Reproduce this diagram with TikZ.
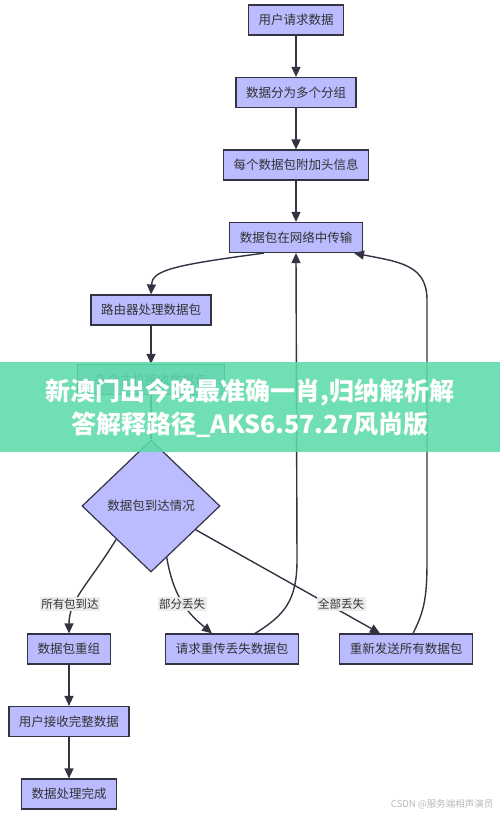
\documentclass[tikz,border=0pt]{standalone}
\usepackage{fontspec}
\setmainfont{Noto Sans CJK SC}
\usepackage{tikz}
\usetikzlibrary{shapes.geometric, arrows.meta}
\definecolor{boxfill}{RGB}{187,187,255}
\definecolor{boxline}{RGB}{51,51,68}
\definecolor{textgray}{RGB}{51,51,51}
\definecolor{bannergreen}{RGB}{92,219,168}
\tikzstyle{process} = [rectangle, minimum height=30pt, inner xsep=10pt, inner ysep=0pt, text centered, draw=boxline, fill=boxfill, line width=1.2pt, text=textgray, font=\fontsize{12.5}{15}\selectfont]
\tikzstyle{decision} = [diamond, minimum width=138pt, minimum height=132pt, inner sep=0pt, text centered, draw=boxline, fill=boxfill, line width=1.2pt, text=textgray, font=\fontsize{12.5}{15}\selectfont]
\tikzstyle{edgelabel} = [fill=gray!15, inner sep=1.5pt, text=textgray, font=\fontsize{11.5}{13}\selectfont]
\tikzstyle{arrow} = [line width=1.4pt, draw=boxline, -{Triangle[length=10pt,width=9pt]}]
\tikzstyle{banner} = [text=white, align=center, font=\bfseries\fontsize{25}{33}\selectfont]
\begin{document}
\begin{tikzpicture}[x=1pt, y=-1pt, node distance=72.5pt]
\useasboundingbox (0,0) rectangle (500,814);

\node (req) [process] at (296,20) {用户请求数据};

\node (split) [process, below of=req] {数据分为多个分组};

\draw[arrow] (req) -- (split);

\node (head) [process, below of=split] {每个数据包附加头信息};

\draw[arrow] (split) -- (head);

\node (net) [process, below of=head] {数据包在网络中传输};

\draw[arrow] (head) -- (net);

\node (router) [process, below of=net, xshift=-145pt] {路由器处理数据包};

\draw[arrow] ([xshift=-32pt]net.south) .. controls (175,265) and (152,270) .. (router.north);

\node (host) [process, below of=router, yshift=3pt, minimum width=147pt] {各个主机接收数据包};

\draw[arrow] (router) -- (host);

\node (check) [decision, below of=host, yshift=-54pt] {数据包到达情况};

\draw[line width=1.4pt, draw=boxline] (host) -- (check);

\node (merge) [process] at (69,649) {数据包重组};

\node (resend) [process, right of=merge, node distance=163pt] {请求重传丢失数据包};

\node (all) [process, right of=resend, node distance=174pt] {重新发送所有数据包};

\draw[arrow] (check.south west) .. controls (88,585) and (69,600) .. (merge.north);
\draw[arrow] (check.-73) .. controls (174,600) and (190,615) .. ([xshift=-20pt]resend.north);
\draw[arrow] (check.-28) -- ([xshift=-26pt]all.north);

\draw[arrow] ([xshift=23pt]resend.north) .. controls (285,615) and (297,600) .. (297,560) -- (net.south);
\draw[arrow] ([xshift=7pt]all.north) .. controls (425,610) and (427,595) .. (427,560) -- (427,300) .. controls (427,265) and (400,262) .. ([xshift=58pt]net.south);

\node (lab1) [edgelabel] at (70,604) {所有包到达};
\node (lab2) [edgelabel] at (182,604) {部分丢失};
\node (lab3) [edgelabel] at (341,604) {全部丢失};

\node (recv) [process, below of=merge] {用户接收完整数据};

\draw[arrow] (merge) -- (recv);

\node (done) [process, below of=recv] {数据处理完成};

\draw[arrow] (recv) -- (done);

\fill[bannergreen, opacity=0.88] (0,362) rectangle (500,452);
\node (title) [banner] at (250,408) {新澳门出今晚最准确一肖,归纳解析解\\答解释路径\_AKS6.57.27风尚版};

\node (wm) [text=gray!55, anchor=east, font=\fontsize{9.5}{11}\selectfont] at (497,804) {CSDN @服务端相声演员};

\end{tikzpicture}
\end{document}
